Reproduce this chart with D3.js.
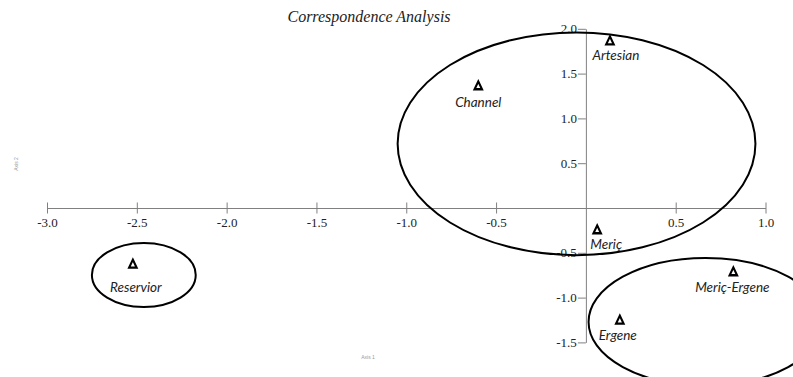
<!DOCTYPE html>
<html>
<head>
<meta charset="utf-8">
<script src="https://cdn.jsdelivr.net/npm/d3@7"></script>
<style>
  body { margin: 0; background: #fff; }
  svg { display: block; }
</style>
</head>
<body>
<script>
// site scores on the first two axes
const sites = ["Artesian", "Channel", "Meriç", "Reservior", "Meriç-Ergene", "Ergene"];
const axis1 = [0.134, -0.599, 0.063, -2.522, 0.821, 0.189];
const axis2 = [1.856, 1.354, -0.253, -0.636, -0.722, -1.261];

// grouping ellipses (centre and radii in axis units)
const groupCx = [-0.052, -2.461, 0.666];
const groupCy = [0.717, -0.747, -1.271];
const groupRx = [0.996, 0.289, 0.651];
const groupRy = [1.243, 0.357, 0.713];

const xTicks = [-3.0, -2.5, -2.0, -1.5, -1.0, -0.5, 0.5, 1.0];
const yTicks = [-1.5, -1.0, -0.5, 0.5, 1.0, 1.5, 2.0];

const width = 793;
const height = 377;

const svg = d3
  .select("body")
  .append("svg")
  .attr("width", width)
  .attr("height", height);

svg.append("rect").attr("width", width).attr("height", height).attr("fill", "#fff");

const xScale = d3.scaleLinear().domain([-3, 1]).range([47, 765.5]);
const yScale = d3.scaleLinear().domain([-1.5, 2]).range([342.4, 28.8]);

// label nudges so text sits under each triangle like the original
const labelShift = {
  "Artesian": [6, 18],
  "Channel": [0, 20],
  "Meriç": [9, 18],
  "Reservior": [3, 27],
  "Meriç-Ergene": [-1, 19],
  "Ergene": [-2, 19]
};

const fmt = (d) => d.toFixed(1);

// x axis
const xAxis = d3
  .axisBottom(xScale)
  .tickValues(xTicks)
  .tickFormat(fmt)
  .tickSizeInner(5.5)
  .tickSizeOuter(0)
  .tickPadding(4.3);
const gx = svg
  .append("g")
  .attr("transform", "translate(0," + yScale(0) + ")")
  .call(xAxis);
gx.selectAll(".tick line").attr("y1", -5.5);

// y axis
const yAxis = d3
  .axisLeft(yScale)
  .tickValues(yTicks)
  .tickFormat(fmt)
  .tickSizeInner(8)
  .tickSizeOuter(0)
  .tickPadding(1);
const gy = svg
  .append("g")
  .attr("transform", "translate(" + xScale(0) + ",0)")
  .call(yAxis);

svg.selectAll(".domain, .tick line").attr("stroke", "#808080").attr("stroke-width", 1);
svg
  .selectAll(".tick text")
  .attr("fill", "#222")
  .attr("font-family", "Liberation Serif, serif")
  .attr("font-size", "13px");

// ellipses
const groups = d3.range(groupCx.length);
svg
  .selectAll("ellipse.group")
  .data(groups)
  .enter()
  .append("ellipse")
  .attr("class", "group")
  .attr("cx", (i) => xScale(groupCx[i]))
  .attr("cy", (i) => yScale(groupCy[i]))
  .attr("rx", (i) => xScale(groupCx[i] + groupRx[i]) - xScale(groupCx[i]))
  .attr("ry", (i) => yScale(groupCy[i]) - yScale(groupCy[i] + groupRy[i]))
  .attr("fill", "none")
  .attr("stroke", "#000")
  .attr("stroke-width", 2);

// points
const pts = d3.range(sites.length);
const tri = d3.symbol().type(d3.symbolTriangle).size(30);
svg
  .selectAll("path.site")
  .data(pts)
  .enter()
  .append("path")
  .attr("class", "site")
  .attr("d", tri)
  .attr("transform", (i) => "translate(" + xScale(axis1[i]) + "," + yScale(axis2[i]) + ") scale(0.9,1.1)")
  .attr("fill", "none")
  .attr("stroke", "#000")
  .attr("stroke-width", 2.2)
  .attr("stroke-linejoin", "miter");

svg
  .selectAll("text.site")
  .data(pts)
  .enter()
  .append("text")
  .attr("class", "site")
  .attr("x", (i) => xScale(axis1[i]) + labelShift[sites[i]][0])
  .attr("y", (i) => yScale(axis2[i]) + labelShift[sites[i]][1])
  .attr("text-anchor", "middle")
  .attr("font-family", "Lato, sans-serif")
  .attr("font-style", "italic")
  .attr("font-size", "13.5px")
  .attr("fill", "#222")
  .text((i) => sites[i]);

// title and axis names
svg
  .append("text")
  .attr("x", 369)
  .attr("y", 22)
  .attr("text-anchor", "middle")
  .attr("font-family", "Liberation Serif, serif")
  .attr("font-style", "italic")
  .attr("font-size", "16px")
  .attr("fill", "#222")
  .text("Correspondence Analysis");

svg
  .append("text")
  .attr("x", 368)
  .attr("y", 359)
  .attr("text-anchor", "middle")
  .attr("font-family", "Liberation Sans, sans-serif")
  .attr("font-size", "5px")
  .attr("fill", "#999")
  .text("Axis 1");

svg
  .append("text")
  .attr("transform", "translate(18,164) rotate(-90)")
  .attr("text-anchor", "middle")
  .attr("font-family", "Liberation Sans, sans-serif")
  .attr("font-size", "5px")
  .attr("fill", "#999")
  .text("Axis 2");
</script>
</body>
</html>
